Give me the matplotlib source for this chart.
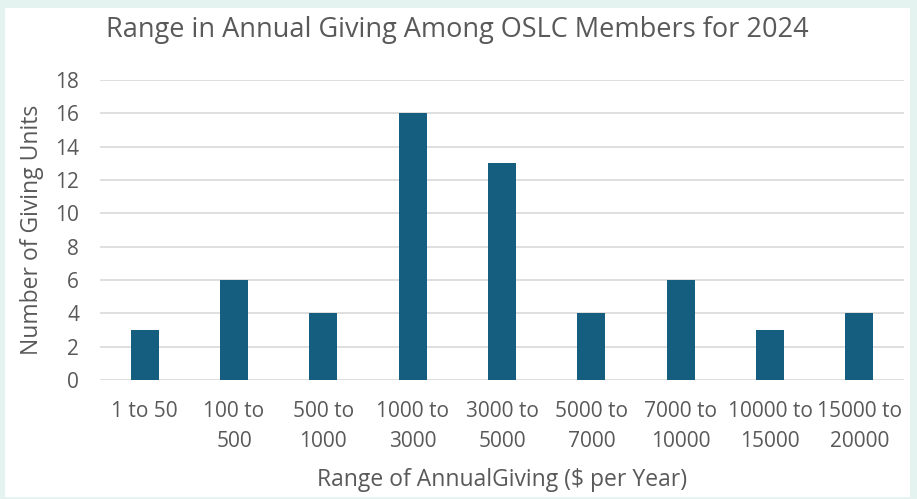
import matplotlib.pyplot as plt
from matplotlib.patches import Rectangle
import numpy as np

#### Data
categories = ['1 to 50', '100 to\n500', '500 to\n1000', '1000 to\n3000', '3000 to\n5000',
              '5000 to\n7000', '7000 to\n10000', '10000 to\n15000', '15000 to\n20000']
giving_units = [3, 6, 4, 16, 13, 4, 6, 3, 4]

plt.rcParams['font.family'] = ['Open Sans', 'DejaVu Sans']
text_color = '#595959'
bar_color = '#165E7F'

fig = plt.figure(figsize=(9.17, 4.99), dpi=100)
fig.patch.set_facecolor('#E4F3EF')

# white chart panel inside the mint frame
W, H = 917, 499
fig.patches.append(Rectangle((5 / W, 2 / H), 905 / W, 489 / H,
                             transform=fig.transFigure, facecolor='white',
                             edgecolor='none', zorder=-5))

ax = fig.add_axes([100 / W, (H - 380) / H, 804 / W, 300 / H])
ax.set_facecolor('none')
ax.set_zorder(2)

x = np.arange(len(categories))
ax.bar(x, giving_units, width=0.31, color=bar_color, zorder=3)

ax.set_xlim(-0.5, len(categories) - 0.5)
ax.set_ylim(0, 18)
ax.set_yticks(np.arange(0, 19, 2))
ax.set_xticks(x)
ax.set_xticklabels(categories, fontsize=15, color=text_color, linespacing=1.55)
ax.tick_params(axis='y', labelsize=15, labelcolor=text_color, length=0, pad=15)
ax.tick_params(axis='x', length=0, pad=15)
ax.grid(axis='y', color='#D9D9D9', linewidth=1.2, zorder=0)
for s in ax.spines.values():
    s.set_visible(False)

ax.set_ylabel('Number of Giving Units', fontsize=16.5, color=text_color, labelpad=8)
ax.set_xlabel('Range of AnnualGiving ($ per Year)', fontsize=16.5, color=text_color, labelpad=12)
fig.text(457 / W, 1 - 30 / H, 'Range in Annual Giving Among OSLC Members for 2024',
         ha='center', va='center', fontsize=19.5, color=text_color)

fig.savefig('out.png', dpi=100, facecolor=fig.get_facecolor())
